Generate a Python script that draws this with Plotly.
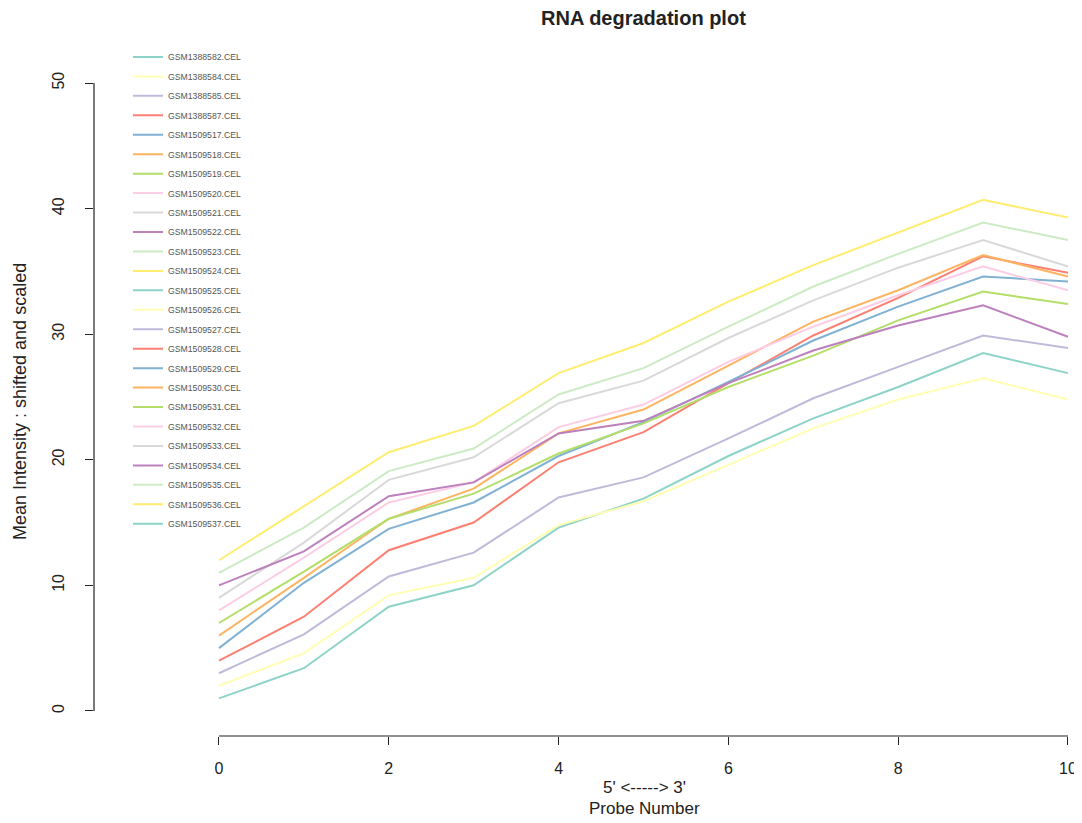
import plotly.graph_objects as go

probe = list(range(11))

sample_names = [
    "GSM1388582.CEL", "GSM1388584.CEL", "GSM1388585.CEL", "GSM1388587.CEL",
    "GSM1509517.CEL", "GSM1509518.CEL", "GSM1509519.CEL", "GSM1509520.CEL",
    "GSM1509521.CEL", "GSM1509522.CEL", "GSM1509523.CEL", "GSM1509524.CEL",
    "GSM1509525.CEL", "GSM1509526.CEL", "GSM1509527.CEL", "GSM1509528.CEL",
    "GSM1509529.CEL", "GSM1509530.CEL", "GSM1509531.CEL", "GSM1509532.CEL",
    "GSM1509533.CEL", "GSM1509534.CEL", "GSM1509535.CEL", "GSM1509536.CEL",
    "GSM1509537.CEL",
]

set3 = ["#8DD3C7", "#FFFFB3", "#BEBADA", "#FB8072", "#80B1D3", "#FDB462",
        "#B3DE69", "#FCCDE5", "#D9D9D9", "#BC80BD", "#CCEBC5", "#FFED6F"]

s01 = [1, 3.4, 8.3, 10.0, 14.6, 16.9, 20.3, 23.3, 25.8, 28.5, 26.9]
s02 = [2, 4.6, 9.2, 10.6, 14.8, 16.7, 19.6, 22.5, 24.8, 26.5, 24.8]
s03 = [3, 6.1, 10.7, 12.6, 17.0, 18.6, 21.7, 24.9, 27.4, 29.9, 28.9]
s04 = [4, 7.5, 12.8, 15.0, 19.8, 22.2, 26.1, 29.9, 32.9, 36.2, 34.9]
s05 = [5, 10.2, 14.5, 16.6, 20.3, 23.0, 26.2, 29.5, 32.2, 34.6, 34.2]
s06 = [6, 10.6, 15.3, 17.7, 22.1, 24.0, 27.5, 31.0, 33.5, 36.3, 34.6]
s07 = [7, 11.1, 15.3, 17.3, 20.5, 22.9, 25.8, 28.3, 31.1, 33.4, 32.4]
s08 = [8, 12.2, 16.6, 18.2, 22.6, 24.4, 27.8, 30.6, 33.1, 35.4, 33.5]
s09 = [9, 13.4, 18.4, 20.2, 24.5, 26.3, 29.7, 32.7, 35.3, 37.5, 35.4]
s10 = [10, 12.7, 17.1, 18.2, 22.1, 23.1, 26.1, 28.7, 30.7, 32.3, 29.8]
s11 = [11, 14.6, 19.1, 20.9, 25.2, 27.3, 30.6, 33.8, 36.4, 38.9, 37.5]
s12 = [12, 16.3, 20.6, 22.7, 26.9, 29.3, 32.6, 35.5, 38.1, 40.7, 39.3]

drawn_series = [s01, s02, s03, s04, s05, s06, s07, s08, s09, s10, s11, s12]

x_ticks = [0, 2, 4, 6, 8, 10]
y_ticks = [0, 10, 20, 30, 40, 50]

fig = go.Figure()
for i, name in enumerate(sample_names):
    color = set3[i % len(set3)]
    if i < len(drawn_series):
        xs, ys = probe, drawn_series[i]
    else:
        xs, ys = [None], [None]
    fig.add_trace(go.Scatter(
        x=xs, y=ys, mode="lines", name=name,
        legendgroup=name,
        line=dict(color=color, width=2),
        showlegend=True,
    ))

font_main = "Liberation Sans, Arial, sans-serif"

fig.update_layout(
    width=1074, height=815,
    paper_bgcolor="white", plot_bgcolor="white",
    margin=dict(l=86, r=0, t=50, b=87),
    showlegend=True,
    legend=dict(
        x=0.0344, y=1.0229, xanchor="left", yanchor="top",
        font=dict(family=font_main, size=8.7, color="#555555"),
        bgcolor="rgba(0,0,0,0)", borderwidth=0,
        tracegroupgap=0.45, itemwidth=30, maxheight=700,
    ),
    xaxis=dict(
        range=[-1.472, 10.165], showgrid=False, zeroline=False, showline=False,
        tickvals=x_ticks, ticks="outside", ticklen=8, tickwidth=1.2, tickcolor="#222",
        ticklabelstandoff=10,
        tickfont=dict(family=font_main, size=16, color="#222"),
    ),
    yaxis=dict(
        range=[-2, 52], showgrid=False, zeroline=False, showline=False,
        tickvals=y_ticks, ticks="outside", ticklen=8, tickwidth=1.2, tickcolor="#222",
        tickangle=-90, ticklabelstandoff=15,
        tickfont=dict(family=font_main, size=16, color="#222"),
    ),
)

# R-style axis lines spanning only the tick range
fig.add_shape(type="line", xref="x", yref="paper", x0=x_ticks[0], x1=x_ticks[-1], y0=0, y1=0,
              line=dict(color="#222", width=1.2))
fig.add_shape(type="line", xref="paper", yref="y", x0=0, x1=0, y0=y_ticks[0], y1=y_ticks[-1],
              line=dict(color="#222", width=1.2))

def ann(text, sx, sy, size, angle=0):
    fig.add_annotation(text=text, xref="paper", yref="paper",
                       x=(sx - 94) / 988, y=(736 - sy) / 678,
                       xanchor="center", yanchor="middle", showarrow=False,
                       textangle=angle,
                       font=dict(family=font_main, size=size, color="#222"))

ann("<b>RNA degradation plot</b>", 643.5, 18.5, 20)
ann("5' <-----> 3'", 644, 787, 17)
ann("Probe Number", 644, 809, 17)
ann("Mean Intensity : shifted and scaled", 20, 402, 18, angle=-90)

fig.write_html("out.html")
